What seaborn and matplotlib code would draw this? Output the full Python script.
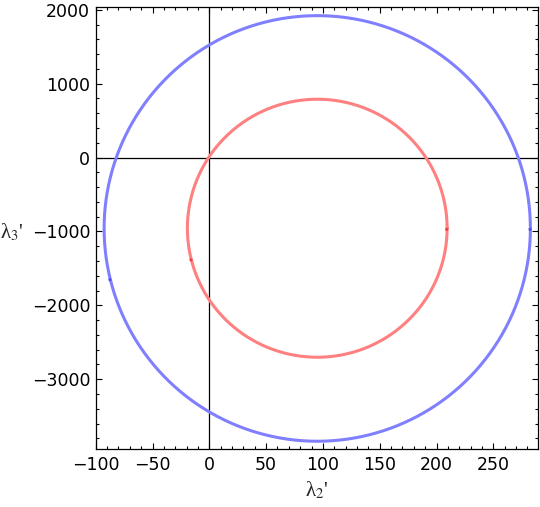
import numpy as np
import pandas as pd
import matplotlib
matplotlib.use("Agg")
import matplotlib.pyplot as plt
from matplotlib.ticker import MultipleLocator
import seaborn as sns

# ---- data ----
curves = ["outer", "inner"]
center_x = [95.0, 95.0]
center_y = [-960.0, -957.0]
semi_x = [187.6, 114.3]
semi_y = [2880.0, 1746.0]

# small dots visible on the curves
dot_curve = ["outer", "outer", "inner", "inner"]
dot_x = [-87.5, 282.3, -16.1, 209.0]
dot_y = [-1653.0, -973.0, -1386.0, -973.0]

x_ticks = [-100, -50, 0, 50, 100, 150, 200, 250]
y_ticks = [2000, 1000, 0, -1000, -2000, -3000]

# ---- build tables ----
t = np.linspace(0, 2 * np.pi, 721)
rows = []
for c, cx, cy, a, b in zip(curves, center_x, center_y, semi_x, semi_y):
    rows.append(pd.DataFrame({"curve": c, "x": cx + a * np.cos(t), "y": cy + b * np.sin(t), "order": np.arange(len(t))}))
df = pd.concat(rows, ignore_index=True)
dots = pd.DataFrame({"curve": dot_curve, "x": dot_x, "y": dot_y})

sns.set_theme(style="white")
plt.rcParams["font.family"] = ["DejaVu Sans"]
plt.rcParams["mathtext.fontset"] = "stix"

fig = plt.figure(figsize=(5.4, 5.07), dpi=100)
ax = fig.add_axes([95.7 / 540, 1 - 449 / 507, (538 - 95.7) / 540, (449 - 7) / 507])

palette = {"outer": "#8080ff", "inner": "#ff8080"}
dot_palette = {"outer": "#5050ee", "inner": "#ee4040"}

ax.axhline(0, color="black", lw=0.9, zorder=1)
ax.axvline(0, color="black", lw=0.9, zorder=1)

sns.lineplot(data=df, x="x", y="y", hue="curve", palette=palette, sort=False,
             estimator=None, units="curve", legend=False, lw=2.2, ax=ax, zorder=2)
sns.scatterplot(data=dots, x="x", y="y", hue="curve", palette=dot_palette, s=5,
                linewidth=0, legend=False, ax=ax, zorder=3)

ax.set_xlim(-100, 289.3)
ax.set_ylim(-3945, 2037)
ax.set_xticks(x_ticks)
ax.set_yticks(y_ticks)
ax.xaxis.set_minor_locator(MultipleLocator(10))
ax.yaxis.set_minor_locator(MultipleLocator(200))

for s in ax.spines.values():
    s.set_visible(True)
    s.set_color("black")
    s.set_linewidth(0.9)

ax.tick_params(which="both", direction="in", top=True, right=True, bottom=True, left=True,
               color="black", width=0.8, labelsize=12.5, labelcolor="black")
ax.tick_params(which="major", length=4.5)
ax.tick_params(which="minor", length=2.5)
ax.tick_params(axis="x", which="major", pad=5)
ax.tick_params(axis="y", which="major", pad=4)

ax.set_xlabel("λ" + r"$_{2}$" + "'", fontsize=15, family=["Liberation Serif"], va="center")
ax.set_ylabel("λ" + r"$_{3}$" + "'", fontsize=15, family=["Liberation Serif"], rotation=0, va="center", ha="center")
ax.xaxis.set_label_coords(0.5, -0.093)
ax.yaxis.set_label_coords(-0.19, 0.49)

fig.savefig("out.png", dpi=100)
